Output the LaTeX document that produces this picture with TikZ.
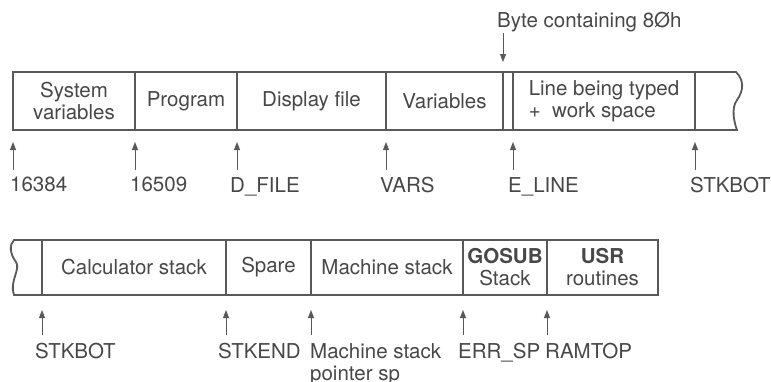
\documentclass[tikz,border=0pt]{standalone}
\usepackage{fontspec}
\setmainfont{TeX Gyre Heros}
\usetikzlibrary{arrows.meta}

\begin{document}
\begin{tikzpicture}[x=1pt, y=-1pt, every node/.style={font=\fontsize{20.5}{22}\selectfont, text=black!72},
	cell/.style={draw=black!65, line width=1.8pt, rectangle, anchor=north west, inner sep=0pt, outer sep=0pt, align=center},
	edge/.style={draw=black!65, line width=1.8pt},
	lbl/.style={anchor=north west, inner sep=0pt, align=left},
	ptr/.style={draw=black!65, line width=1pt},
	>={Triangle[length=8pt, width=6pt]}]
	\useasboundingbox (0,0) rectangle (771,381);
	% upper strip
	\foreach \xa/\xb/\nm/\txt in {13/135/sysvar/{System\\variables}, 135/237/prog/Program, 237/386/dfile/Display file, 386/503/vars/Variables, 503/513/byte/{}}
		{\node[cell, minimum width=\xb-\xa, minimum height=58] (\nm) at (\xa,72) {\txt};}
	\node[cell, align=left, minimum width=182, minimum height=58] (eline) at (513,72) {Line being typed\\+\ \ work space};
	\draw[edge] (eline.north east) -- (736,72) .. controls (744,80) and (744,90) .. (737,100) .. controls (731,108) and (734,122) .. (737,130) -- (eline.south east);
	\coordinate (b80) at (503,72);
	\node[lbl] (bytelab) at (497,12) {Byte containing 8Øh};
	\draw[ptr, ->, shorten <=1pt, shorten >=10pt] (bytelab.south -| b80) -- (b80);
	\foreach \x/\dx/\txt [count=\i] in {13/-3/16384, 135/-5/16509, 237/-7/D\_FILE, 386/-6/VARS, 513/-5/E\_LINE, 695/-5/STKBOT}
		{\coordinate (t\i) at (\x,130); \node[lbl] (p\i) at (\x+\dx,177) {\txt}; \draw[ptr, ->, shorten <=7pt, shorten >=12pt] (p\i.north -| t\i) -- (t\i);}
	% lower strip
	\foreach \xa/\xb/\nm/\txt in {42/226/calc/Calculator stack, 226/311/spare/Spare, 311/463/mstack/Machine stack, 463/547/gosub/{\textbf{GOSUB}\\Stack}, 547/658/usr/{\textbf{USR}\\routines}}
		{\node[cell, minimum width=\xb-\xa, minimum height=55] (\nm) at (\xa,240) {\txt};}
	\draw[edge] (calc.north west) -- (14,240) .. controls (9,245) and (10,254) .. (16,262) .. controls (21,269) and (9,282) .. (14,295) -- (calc.south west);
	\foreach \x/\dx/\txt [count=\i] in {42/-7/STKBOT, 226/-8/STKEND, 311/-1/{Machine stack\\pointer sp}, 463/-5/ERR\_SP, 547/-2/RAMTOP}
		{\coordinate (s\i) at (\x,295); \node[lbl] (q\i) at (\x+\dx,343) {\txt}; \draw[ptr, ->, shorten <=8pt, shorten >=15pt] (q\i.north -| s\i) -- (s\i);}
\end{tikzpicture}
\end{document}
